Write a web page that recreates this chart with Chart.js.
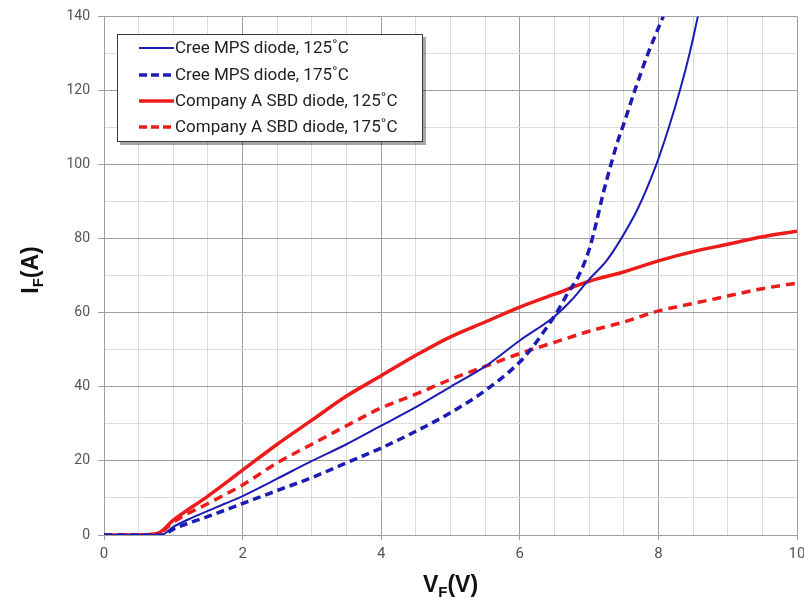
<!DOCTYPE html>
<html>
<head>
<meta charset="utf-8">
<script src="https://cdn.jsdelivr.net/npm/chart.js@4.4.1/dist/chart.umd.min.js"></script>
<style>
  html, body { margin: 0; padding: 0; background: #ffffff; }
  #wrap { width: 804px; height: 598px; }
</style>
</head>
<body>
<div id="wrap"><canvas id="c" width="804" height="598"></canvas></div>
<script>
// ---- Data ----
const seriesLabels = [
  'Cree MPS diode, 125˚C',
  'Cree MPS diode, 175˚C',
  'Company A SBD diode, 125˚C',
  'Company A SBD diode, 175˚C'
];

const creeX125 = [0, 0.5, 0.82, 1.0, 1.25, 1.5, 1.75, 2.0, 2.5, 3.0, 3.5, 4.0, 4.5, 5.0, 5.5, 6.0, 6.5, 6.75, 7.0, 7.25, 7.45, 7.7, 7.97, 8.15, 8.31, 8.45, 8.57];
const creeY125 = [0, 0, 0, 2.2, 4.5, 6.5, 8.5, 10.5, 15.2, 20, 24.5, 29.5, 34.5, 40, 45.5, 52.5, 59, 63.5, 69, 74, 79.6, 88, 100, 110, 120, 130, 140];

const creeX175 = [0, 0.5, 0.85, 1.0, 1.5, 2.0, 2.5, 3.0, 3.5, 4.0, 4.5, 5.0, 5.5, 6.0, 6.17, 6.35, 6.53, 6.7, 6.85, 7.0, 7.1, 7.2, 7.3, 7.4, 7.5, 7.66, 7.85, 8.07];
const creeY175 = [0, 0, 0, 1.6, 5, 8.5, 12, 15.5, 19.5, 23.5, 28, 33, 39, 46.7, 50.4, 55, 60, 65.5, 70, 77, 84, 92, 99, 105.5, 111, 120, 130, 140];

const compX125 = [0, 0.5, 0.78, 1.0, 1.5, 2.0, 2.5, 3.0, 3.5, 4.0, 4.5, 5.0, 5.5, 6.0, 6.5, 7.0, 7.5, 8.0, 8.5, 9.0, 9.5, 10];
const compY125 = [0, 0, 0.5, 4, 10.5, 17.5, 24.5, 31, 37.5, 43, 48.5, 53.5, 57.5, 61.5, 65, 68.5, 71, 74, 76.5, 78.5, 80.5, 82];

const compX175 = [0, 0.5, 0.78, 1.0, 1.5, 2.0, 2.5, 3.0, 3.5, 4.0, 4.5, 5.0, 5.5, 6.0, 6.5, 7.0, 7.5, 8.0, 8.5, 9.0, 9.5, 10];
const compY175 = [0, 0, 0.3, 3.5, 8.5, 13.5, 19.5, 24.5, 29.5, 34.3, 38, 42, 45.5, 49, 52, 55, 57.5, 60.5, 62.5, 64.5, 66.5, 68];

const xMin = 0, xMax = 10, xStep = 0.5, xLabelEvery = 2;
const yMin = 0, yMax = 140, yStep = 10, yLabelEvery = 20;

const xTitle = ['V', 'F', '(V)'];
const yTitle = ['I', 'F', '(A)'];

// ---- Styling ----
const BLUE = '#1c1cb4';
const RED = '#ee1b1b';
const GRID_MAJOR = '#a0a0a0';
const GRID_MINOR = '#dcdcdc';

function pts(xs, ys) { return xs.map((x, i) => ({ x: x, y: ys[i] })); }
function isMult(v, m) { const r = v / m; return Math.abs(r - Math.round(r)) < 1e-6; }

const datasets = [
  { label: seriesLabels[0], data: pts(creeX125, creeY125), borderColor: BLUE, borderWidth: 2, borderDash: [] },
  { label: seriesLabels[1], data: pts(creeX175, creeY175), borderColor: BLUE, borderWidth: 3.5, borderDash: [8, 5] },
  { label: seriesLabels[2], data: pts(compX125, compY125), borderColor: RED, borderWidth: 3.5, borderDash: [] },
  { label: seriesLabels[3], data: pts(compX175, compY175), borderColor: RED, borderWidth: 3.5, borderDash: [9, 6] }
].map(d => Object.assign(d, {
  showLine: true, pointRadius: 0, pointHoverRadius: 0, fill: false,
  cubicInterpolationMode: 'monotone', backgroundColor: d.borderColor
}));

// custom legend box drawn inside plot
const boxLegend = {
  id: 'boxLegend',
  afterDraw(chart) {
    const ctx = chart.ctx;
    const x0 = 117, y0 = 34, w = 306, h = 108;
    ctx.save();
    ctx.fillStyle = 'rgba(0,0,0,0.35)';
    ctx.fillRect(x0 + 3, y0 + 3, w, h);
    ctx.fillStyle = '#ffffff';
    ctx.fillRect(x0, y0, w, h);
    ctx.strokeStyle = '#3a3a3a';
    ctx.lineWidth = 1;
    ctx.strokeRect(x0 + 0.5, y0 + 0.5, w - 1, h - 1);
    const rows = [48, 75, 101, 127];
    ctx.font = '17px Roboto';
    ctx.textBaseline = 'middle';
    ctx.textAlign = 'left';
    chart.data.datasets.forEach((ds, i) => {
      const yy = rows[i];
      ctx.strokeStyle = ds.borderColor;
      ctx.lineWidth = ds.borderWidth;
      ctx.setLineDash(ds.borderDash.length ? [8, 4] : []);
      ctx.beginPath();
      ctx.moveTo(139, yy);
      ctx.lineTo(174, yy);
      ctx.stroke();
      ctx.setLineDash([]);
      ctx.fillStyle = '#222222';
      ctx.fillText(ds.label, 175, yy + 1);
    });
    ctx.restore();
  }
};

// axis titles with subscripts
const axisTitles = {
  id: 'axisTitles',
  afterDraw(chart) {
    const ctx = chart.ctx;
    const big = 'bold 23px "Liberation Sans", Arial, sans-serif';
    const small = 'bold 15px "Liberation Sans", Arial, sans-serif';
    function drawSub(parts, cx, cy) {
      ctx.font = big; const w0 = ctx.measureText(parts[0]).width;
      const w2 = ctx.measureText(parts[2]).width;
      ctx.font = small; const w1 = ctx.measureText(parts[1]).width;
      const total = w0 + w1 + w2;
      let x = cx - total / 2;
      ctx.textAlign = 'left';
      ctx.textBaseline = 'alphabetic';
      ctx.fillStyle = '#111111';
      ctx.font = big; ctx.fillText(parts[0], x, cy); x += w0;
      ctx.font = small; ctx.fillText(parts[1], x, cy + 5); x += w1;
      ctx.font = big; ctx.fillText(parts[2], x, cy);
    }
    ctx.save();
    const area = chart.chartArea;
    drawSub(xTitle, (area.left + area.right) / 2, 592);
    ctx.translate(38, 270);
    ctx.rotate(-Math.PI / 2);
    drawSub(yTitle, 0, 0);
    ctx.restore();
  }
};

const whiteBg = {
  id: 'whiteBg',
  beforeDraw(chart) {
    const ctx = chart.ctx;
    ctx.save();
    ctx.fillStyle = '#ffffff';
    ctx.fillRect(0, 0, chart.width, chart.height);
    ctx.restore();
  }
};

new Chart(document.getElementById('c'), {
  type: 'scatter',
  data: { datasets: datasets },
  plugins: [whiteBg, boxLegend, axisTitles],
  options: {
    responsive: false,
    animation: false,
    events: [],
    layout: { padding: { left: 0, right: 7, top: 16, bottom: 0 } },
    plugins: { legend: { display: false }, tooltip: { enabled: false }, title: { display: false } },
    scales: {
      x: {
        type: 'linear', min: xMin, max: xMax,
        afterFit(s) { s.height = 63; s.paddingLeft = 0; s.paddingRight = 0; },
        ticks: {
          stepSize: xStep, autoSkip: false, maxRotation: 0, minRotation: 0,
          padding: 5, color: '#555555', font: { family: 'Roboto', size: 15 },
          callback: v => isMult(v, xLabelEvery) ? String(Math.round(v)) : ''
        },
        grid: {
          color: c => (c.tick && isMult(c.tick.value, xLabelEvery)) ? GRID_MAJOR : GRID_MINOR,
          tickColor: c => (c.tick && isMult(c.tick.value, xLabelEvery)) ? GRID_MAJOR : 'rgba(0,0,0,0)',
          lineWidth: 1, tickLength: 5, drawTicks: true
        },
        border: { display: true, color: GRID_MAJOR, width: 1 },
        title: { display: false }
      },
      y: {
        type: 'linear', min: yMin, max: yMax,
        afterFit(s) { s.width = 104; },
        ticks: {
          stepSize: yStep, autoSkip: false,
          padding: 8, color: '#555555', font: { family: 'Roboto', size: 14 },
          callback: v => isMult(v, yLabelEvery) ? String(Math.round(v)) : ''
        },
        grid: {
          color: c => (c.tick && isMult(c.tick.value, yLabelEvery)) ? GRID_MAJOR : GRID_MINOR,
          tickColor: c => (c.tick && isMult(c.tick.value, yLabelEvery)) ? GRID_MAJOR : 'rgba(0,0,0,0)',
          lineWidth: 1, tickLength: 6, drawTicks: true
        },
        border: { display: true, color: GRID_MAJOR, width: 1 },
        title: { display: false }
      }
    }
  }
});
</script>
</body>
</html>
